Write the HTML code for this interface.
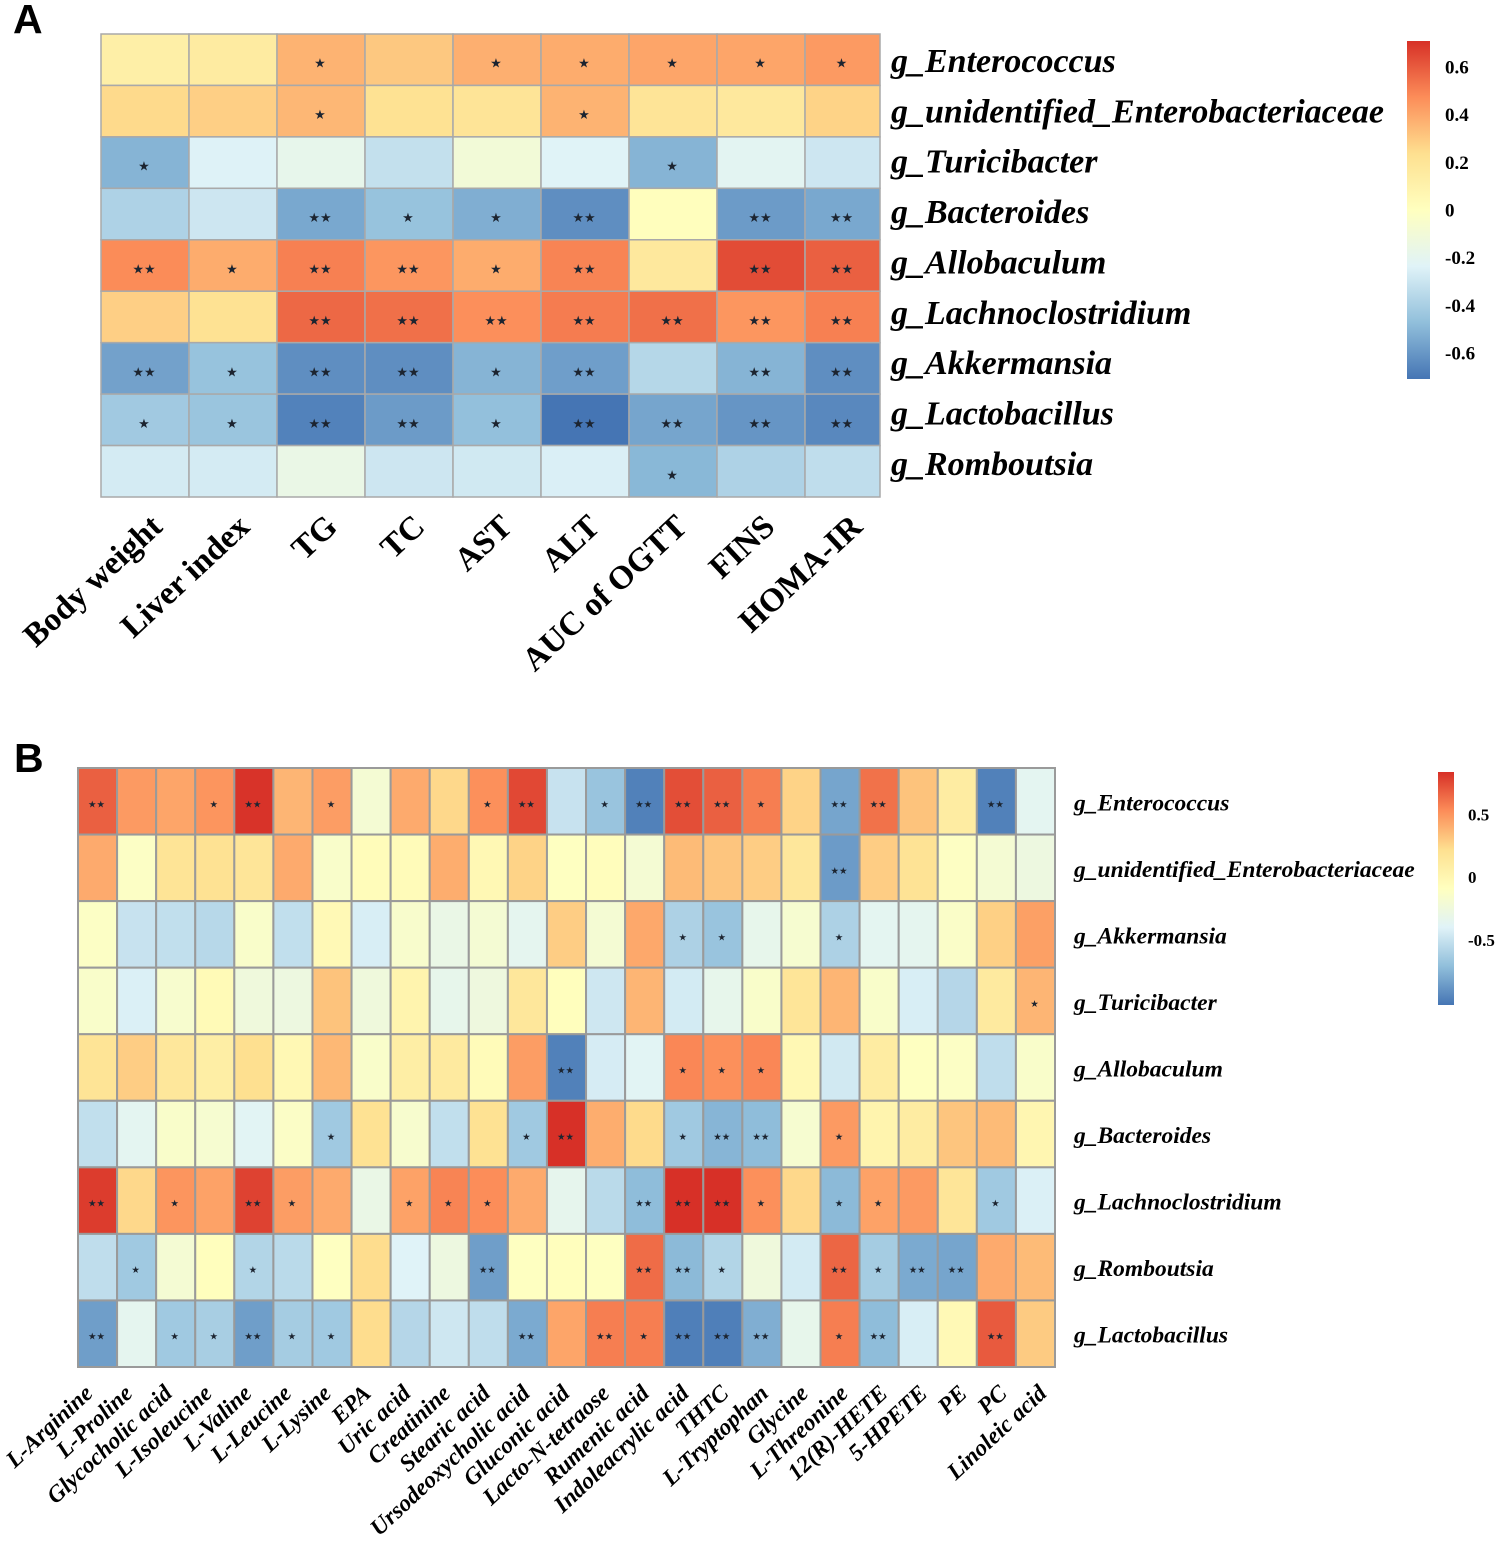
<!DOCTYPE html>
<html lang="en">
<head>
<meta charset="utf-8">
<title>Genus correlation heatmaps</title>
<style>
html,body{margin:0;padding:0;background:#fff;width:1498px;height:1543px;overflow:hidden}
svg{display:block}
text{font-family:"Liberation Serif",serif;fill:#000}
.letter{font-family:"Liberation Sans",sans-serif;font-weight:700;font-size:41px}
.rowA{font-weight:700;font-style:italic;font-size:34px}
.rowB{font-weight:700;font-style:italic;font-size:23.5px}
.colA{font-weight:700;font-size:33px}
.colB{font-weight:700;font-style:italic;font-size:23.5px}
.tickA{font-weight:700;font-size:19px}
.tickB{font-weight:700;font-size:17px}
.star{font-family:"DejaVu Sans",sans-serif;fill:#1c2430}
</style>
</head>
<body>
<svg id="chart" xmlns="http://www.w3.org/2000/svg" width="1498" height="1543" viewBox="0 0 1498 1543">
  <defs>
    <linearGradient id="ramp" x1="0" y1="1" x2="0" y2="0">
      <stop offset="0" stop-color="#4575b4"/>
      <stop offset="0.1667" stop-color="#91bfdb"/>
      <stop offset="0.3333" stop-color="#e0f3f8"/>
      <stop offset="0.5" stop-color="#ffffbf"/>
      <stop offset="0.6667" stop-color="#fee090"/>
      <stop offset="0.8333" stop-color="#fc8d59"/>
      <stop offset="1" stop-color="#d73027"/>
    </linearGradient>
  </defs>
  <text class="letter" x="13" y="33">A</text>
  <text class="letter" x="14" y="772">B</text>
  <rect x="1407" y="41" width="23" height="338" fill="url(#ramp)"/>
  <rect x="1438" y="772" width="16" height="233" fill="url(#ramp)"/>
  <g id="layer"></g>
</svg>
<script>
const rowsA = ["g_Enterococcus","g_unidentified_Enterobacteriaceae","g_Turicibacter","g_Bacteroides","g_Allobaculum","g_Lachnoclostridium","g_Akkermansia","g_Lactobacillus","g_Romboutsia"];
const colsA = ["Body weight","Liver index","TG","TC","AST","ALT","AUC of OGTT","FINS","HOMA-IR"];
const valuesA = [
  [0.12,0.15,0.36,0.30,0.37,0.38,0.40,0.40,0.43],
  [0.25,0.28,0.35,0.22,0.20,0.36,0.20,0.17,0.27],
  [-0.50,-0.24,-0.18,-0.32,-0.10,-0.23,-0.50,-0.21,-0.29],
  [-0.38,-0.29,-0.54,-0.45,-0.52,-0.62,0.01,-0.58,-0.54],
  [0.47,0.38,0.50,0.44,0.38,0.49,0.17,0.63,0.58],
  [0.28,0.22,0.56,0.54,0.46,0.51,0.54,0.44,0.50],
  [-0.56,-0.45,-0.62,-0.62,-0.50,-0.57,-0.36,-0.50,-0.62],
  [-0.42,-0.44,-0.66,-0.58,-0.46,-0.70,-0.55,-0.60,-0.64],
  [-0.27,-0.27,-0.16,-0.29,-0.28,-0.25,-0.49,-0.38,-0.33]
];
const starsA = [
  [0,0,1,0,1,1,1,1,1],
  [0,0,1,0,0,1,0,0,0],
  [1,0,0,0,0,0,1,0,0],
  [0,0,2,1,1,2,0,2,2],
  [2,1,2,2,1,2,0,2,2],
  [0,0,2,2,2,2,2,2,2],
  [2,1,2,2,1,2,0,2,2],
  [1,1,2,2,1,2,2,2,2],
  [0,0,0,0,0,0,1,0,0]
];
const ticksA = [0.6,0.4,0.2,0,-0.2,-0.4,-0.6];

const rowsB = ["g_Enterococcus","g_unidentified_Enterobacteriaceae","g_Akkermansia","g_Turicibacter","g_Allobaculum","g_Bacteroides","g_Lachnoclostridium","g_Romboutsia","g_Lactobacillus"];
const colsB = ["L-Arginine","L-Proline","Glycocholic acid","L-Isoleucine","L-Valine","L-Leucine","L-Lysine","EPA","Uric acid","Creatinine","Stearic acid","Ursodeoxycholic acid","Gluconic acid","Lacto-N-tetraose","Rumenic acid","Indoleacrylic acid","THTC","L-Tryptophan","Glycine","L-Threonine","12(R)-HETE","5-HPETE","PE","PC","Linoleic acid"];
const valuesB = [
  [0.68,0.48,0.44,0.50,0.83,0.38,0.47,-0.20,0.42,0.25,0.52,0.76,-0.50,-0.68,-0.97,0.74,0.68,0.58,0.27,-0.82,0.62,0.33,0.10,-0.97,-0.36],
  [0.42,-0.12,0.18,0.20,0.17,0.42,-0.15,-0.06,-0.05,0.41,-0.02,0.27,-0.10,-0.07,-0.20,0.36,0.32,0.29,0.15,-0.86,0.29,0.19,-0.11,-0.20,-0.27],
  [-0.12,-0.50,-0.52,-0.56,-0.15,-0.52,-0.03,-0.43,-0.16,-0.30,-0.20,-0.35,0.29,-0.20,0.43,-0.60,-0.68,-0.33,-0.18,-0.60,-0.36,-0.35,-0.14,0.28,0.46],
  [-0.15,-0.42,-0.17,-0.04,-0.25,-0.27,0.33,-0.25,0.02,-0.33,-0.26,0.15,-0.08,-0.47,0.38,-0.45,-0.33,-0.15,0.17,0.38,-0.15,-0.43,-0.57,0.12,0.38],
  [0.18,0.29,0.15,0.08,0.22,-0.02,0.37,-0.15,0.08,0.12,-0.05,0.47,-0.97,-0.44,-0.38,0.55,0.52,0.55,-0.02,-0.46,0.10,-0.10,-0.12,-0.53,-0.15],
  [-0.52,-0.36,-0.15,-0.18,-0.38,-0.13,-0.65,0.20,-0.17,-0.52,0.20,-0.65,0.84,0.41,0.24,-0.65,-0.75,-0.72,-0.18,0.48,0.02,0.10,0.32,0.36,0.00],
  [0.80,0.25,0.50,0.45,0.78,0.47,0.42,-0.30,0.45,0.56,0.53,0.42,-0.34,-0.55,-0.72,0.84,0.84,0.52,0.25,-0.73,0.45,0.48,0.17,-0.65,-0.42],
  [-0.53,-0.65,-0.20,-0.08,-0.58,-0.55,-0.10,0.23,-0.40,-0.27,-0.85,-0.10,-0.08,-0.10,0.64,-0.73,-0.58,-0.25,-0.45,0.66,-0.63,-0.80,-0.82,0.42,0.36],
  [-0.85,-0.35,-0.65,-0.62,-0.85,-0.63,-0.65,0.23,-0.57,-0.47,-0.53,-0.80,0.44,0.58,0.58,-0.98,-0.98,-0.78,-0.33,0.58,-0.72,-0.43,-0.03,0.70,0.30]
];
const starsB = [
  [2,0,0,1,2,0,1,0,0,0,1,2,0,1,2,2,2,1,0,2,2,0,0,2,0],
  [0,0,0,0,0,0,0,0,0,0,0,0,0,0,0,0,0,0,0,2,0,0,0,0,0],
  [0,0,0,0,0,0,0,0,0,0,0,0,0,0,0,1,1,0,0,1,0,0,0,0,0],
  [0,0,0,0,0,0,0,0,0,0,0,0,0,0,0,0,0,0,0,0,0,0,0,0,1],
  [0,0,0,0,0,0,0,0,0,0,0,0,2,0,0,1,1,1,0,0,0,0,0,0,0],
  [0,0,0,0,0,0,1,0,0,0,0,1,2,0,0,1,2,2,0,1,0,0,0,0,0],
  [2,0,1,0,2,1,0,0,1,1,1,0,0,0,2,2,2,1,0,1,1,0,0,1,0],
  [0,1,0,0,1,0,0,0,0,0,2,0,0,0,2,2,1,0,0,2,1,2,2,0,0],
  [2,0,1,1,2,1,1,0,0,0,0,2,0,2,1,2,2,2,0,1,2,0,0,2,0]
];
const ticksB = [0.5,0,-0.5];

const rampStops = ["#4575b4","#91bfdb","#e0f3f8","#ffffbf","#fee090","#fc8d59","#d73027"];
const layer = document.getElementById('layer');
const NS = 'http://www.w3.org/2000/svg';

function hexToRgb(h){return [1,3,5].map(i=>parseInt(h.substr(i,2),16));}
function colorScale(min,max){
  return function(v){
    const t = Math.max(0,Math.min(1,(v-min)/(max-min)))*(rampStops.length-1);
    const i = Math.min(rampStops.length-2,Math.floor(t));
    const a = hexToRgb(rampStops[i]), b = hexToRgb(rampStops[i+1]);
    const f = t-i;
    return 'rgb('+a.map((c,k)=>Math.round(c+(b[k]-c)*f)).join(',')+')';
  };
}
function linear(d0,d1,r0,r1){return v=>r0+(v-d0)/(d1-d0)*(r1-r0);}

function drawPanel(p){
  const nR = p.rows.length;
  const color = colorScale(p.min,p.max);
  const xAt = linear(0,p.colSpan,p.left,p.right);
  const yAt = linear(0,nR,p.top,p.bottom);
  p.values.forEach(function(row,r){
    row.forEach(function(v,c){
      const x0 = xAt(c), x1 = Math.min(xAt(c+1),p.right);
      const y0 = yAt(r), y1 = yAt(r+1);
      const rect = document.createElementNS(NS,'rect');
      
      
      rect.setAttribute('x',x0);
      rect.setAttribute('y',y0);
      rect.setAttribute('width',x1-x0);
      rect.setAttribute('height',y1-y0);
      rect.setAttribute('fill',color(v));
      rect.setAttribute('stroke',p.grid);
      rect.setAttribute('stroke-width',p.gridWidth);
      layer.appendChild(rect);
      const s = p.stars[r][c];
      if(s>0){
        const t = document.createElementNS(NS,'text');
        
        
        t.setAttribute('class','star');
        t.setAttribute('x',(x0+x1)/2-1);
        t.setAttribute('y',(y0+y1)/2+p.starDy);
        t.setAttribute('text-anchor','middle');
        t.setAttribute('font-size',p.starSize);
        t.textContent = '★'.repeat(s);
        layer.appendChild(t);
      }
    });
  });
  const rowLabelY = linear(0,1,p.rowLabelTop,p.rowLabelTop+p.rowLabelStep);
  p.rows.forEach(function(name,r){
    const t = document.createElementNS(NS,'text');
    
    
    t.setAttribute('class',p.rowClass);
    t.setAttribute('x',p.rowX);
    t.setAttribute('y',rowLabelY(r));
    t.textContent = name;
    layer.appendChild(t);
  });
  const colLabelX = linear(0,1,p.colLabelStart,p.colLabelStart+p.colLabelStep);
  p.cols.forEach(function(name,c){
    const t = document.createElementNS(NS,'text');
    
    
    t.setAttribute('class',p.colClass);
    t.setAttribute('text-anchor','end');
    t.setAttribute('transform','translate('+colLabelX(c)+' '+p.colY+') rotate('+p.colAngle+')');
    t.textContent = name;
    layer.appendChild(t);
  });
  const tickY = linear(p.barMin,p.barMax,p.barBottom,p.barTop);
  p.ticks.forEach(function(v){
    const t = document.createElementNS(NS,'text');
    
    
    t.setAttribute('class',p.tickClass);
    t.setAttribute('x',p.tickX);
    t.setAttribute('y',tickY(v)+6);
    t.textContent = String(v);
    layer.appendChild(t);
  });
}

drawPanel({rows:rowsA,cols:colsA,values:valuesA,stars:starsA,ticks:ticksA,
  min:-0.7,max:0.7,left:101,right:880,top:34,bottom:497,colSpan:8.852,
  grid:'#a9a9a9',gridWidth:1.5,starSize:13,starDy:8,
  rowClass:'rowA',rowX:891,rowLabelTop:72,rowLabelStep:50.35,
  colClass:'colA',colLabelStart:164,colLabelStep:87.5,colY:529,colAngle:-43,
  barMin:-0.707,barMax:0.711,barBottom:379,barTop:41,tickClass:'tickA',tickX:1445});

drawPanel({rows:rowsB,cols:colsB,values:valuesB,stars:starsB,ticks:ticksB,
  min:-1.02,max:0.84,left:78,right:1055,top:768,bottom:1367,colSpan:25,
  grid:'#9a9a9a',gridWidth:2,starSize:9.5,starDy:6,
  rowClass:'rowB',rowX:1074,rowLabelTop:810.5,rowLabelStep:66.5,
  colClass:'colB',colLabelStart:94,colLabelStep:39.75,colY:1395,colAngle:-43,
  barMin:-1.02,barMax:0.84,barBottom:1005,barTop:772,tickClass:'tickB',tickX:1468});
</script>
</body>
</html>
